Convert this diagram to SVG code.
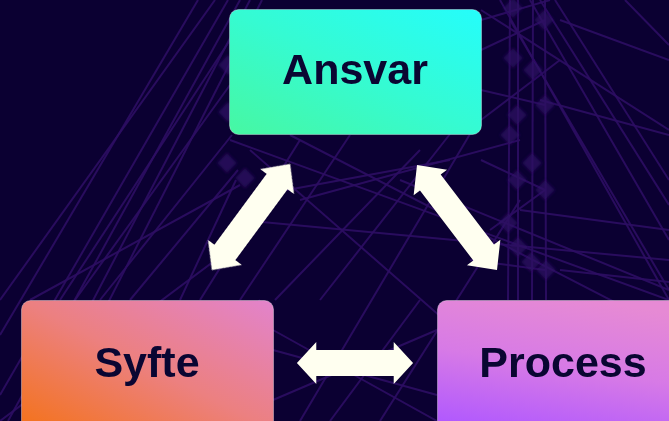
<svg xmlns="http://www.w3.org/2000/svg" width="669" height="421" viewBox="0 0 669 421">
  <defs>
    <linearGradient id="gAnsvar" x1="0" y1="1" x2="1" y2="0">
      <stop offset="0" stop-color="#47f7a2"/>
      <stop offset="0.5" stop-color="#35fbd2"/>
      <stop offset="1" stop-color="#25fdfb"/>
    </linearGradient>
    <linearGradient id="gSyfte" x1="0" y1="1" x2="1" y2="0">
      <stop offset="0" stop-color="#f47218"/>
      <stop offset="0.5" stop-color="#ec8080"/>
      <stop offset="1" stop-color="#e283cc"/>
    </linearGradient>
    <linearGradient id="gProcess" x1="0.3" y1="1" x2="0.6" y2="0">
      <stop offset="0" stop-color="#b25afd"/>
      <stop offset="0.5" stop-color="#d77ae6"/>
      <stop offset="1" stop-color="#e68ad4"/>
    </linearGradient>
    <filter id="soft" x="-50%" y="-50%" width="200%" height="200%">
      <feGaussianBlur stdDeviation="1.6"/>
    </filter>
    <polygon id="dblArrow" points="-66,0 -44,-21 -44,-13 44,-13 44,-21 66,0 44,21 44,13 -44,13 -44,21"/>
    <rect id="dia" x="-7" y="-7" width="14" height="14" transform="rotate(45)"/>
  </defs>
  <style>
    .bg { fill: #0b0032; }
    .wire line { stroke: #2d0e63; stroke-width: 2; opacity: 0.9; }
    .knots { filter: url(#soft); }
    .knots use { fill: #2e1064; opacity: 0.75; }
    .box { stroke: #ffffff; stroke-opacity: 0.35; stroke-width: 1; }
    .label { font-family: "Liberation Sans", Arial, sans-serif; font-weight: 700; font-size: 43px; fill: #0a0632; text-anchor: middle; }
    .arrow { fill: #fffff0; }
  </style>

  <rect class="bg" x="0" y="0" width="669" height="421"/>

  <!-- wireframe backdrop -->
  <g class="wire">
    <!-- left fan rising to the apex -->
    <line x1="0" y1="395" x2="228" y2="0"/>
    <line x1="8" y1="421" x2="240" y2="0"/>
    <line x1="30" y1="421" x2="250" y2="0"/>
    <line x1="48" y1="421" x2="262" y2="0"/>
    <line x1="0" y1="335" x2="198" y2="0"/>
    <line x1="0" y1="300" x2="215" y2="0"/>
    <line x1="60" y1="300" x2="230" y2="40"/>
    <line x1="75" y1="300" x2="230" y2="85"/>
    <line x1="100" y1="300" x2="232" y2="135"/>
    <line x1="0" y1="421" x2="229" y2="250"/>
    <line x1="30" y1="300" x2="240" y2="185"/>
    <line x1="130" y1="300" x2="238" y2="170"/>
    <line x1="160" y1="421" x2="260" y2="300"/>
    <line x1="180" y1="300" x2="236" y2="180"/>
    <line x1="200" y1="300" x2="300" y2="140"/>
    <!-- central lattice -->
    <line x1="230" y1="140" x2="669" y2="300"/>
    <line x1="250" y1="150" x2="560" y2="421"/>
    <line x1="290" y1="135" x2="669" y2="330"/>
    <line x1="240" y1="220" x2="669" y2="260"/>
    <line x1="260" y1="195" x2="450" y2="160"/>
    <line x1="300" y1="200" x2="520" y2="140"/>
    <line x1="275" y1="300" x2="420" y2="150"/>
    <line x1="320" y1="300" x2="450" y2="134"/>
    <line x1="240" y1="300" x2="350" y2="135"/>
    <line x1="300" y1="421" x2="470" y2="134"/>
    <line x1="380" y1="421" x2="520" y2="200"/>
    <line x1="273" y1="330" x2="437" y2="421"/>
    <line x1="273" y1="350" x2="437" y2="395"/>
    <line x1="273" y1="400" x2="437" y2="330"/>
    <line x1="330" y1="421" x2="420" y2="300"/>
    <line x1="400" y1="180" x2="669" y2="290"/>
    <!-- right column with knots -->
    <line x1="510" y1="0" x2="508" y2="300"/>
    <line x1="518" y1="0" x2="518" y2="300"/>
    <line x1="533" y1="0" x2="532" y2="300"/>
    <line x1="545" y1="0" x2="546" y2="300"/>
    <line x1="530" y1="0" x2="669" y2="240"/>
    <line x1="540" y1="0" x2="669" y2="205"/>
    <line x1="555" y1="0" x2="669" y2="180"/>
    <line x1="510" y1="20" x2="669" y2="290"/>
    <line x1="500" y1="0" x2="669" y2="300"/>
    <line x1="625" y1="0" x2="669" y2="45"/>
    <line x1="560" y1="20" x2="669" y2="60"/>
    <line x1="540" y1="100" x2="669" y2="135"/>
    <line x1="481" y1="50" x2="545" y2="20"/>
    <line x1="481" y1="90" x2="545" y2="105"/>
    <line x1="481" y1="120" x2="560" y2="60"/>
    <line x1="481" y1="160" x2="545" y2="190"/>
    <line x1="490" y1="230" x2="545" y2="190"/>
    <line x1="470" y1="260" x2="545" y2="270"/>
    <line x1="481" y1="20" x2="550" y2="0"/>
    <line x1="481" y1="10" x2="669" y2="130"/>
    <line x1="560" y1="270" x2="669" y2="282"/>
    <line x1="520" y1="210" x2="669" y2="230"/>
  </g>

  <g class="knots">
    <use href="#dia" x="513" y="8"/>
    <use href="#dia" x="544" y="20"/>
    <use href="#dia" x="513" y="58"/>
    <use href="#dia" x="533" y="70"/>
    <use href="#dia" x="545" y="105"/>
    <use href="#dia" x="517" y="115"/>
    <use href="#dia" x="510" y="135"/>
    <use href="#dia" x="532" y="163"/>
    <use href="#dia" x="517" y="180"/>
    <use href="#dia" x="545" y="190"/>
    <use href="#dia" x="508" y="223"/>
    <use href="#dia" x="518" y="247"/>
    <use href="#dia" x="531" y="262"/>
    <use href="#dia" x="546" y="270"/>
    <use href="#dia" x="227" y="163"/>
    <use href="#dia" x="245" y="178"/>
    <use href="#dia" x="228" y="112"/>
    <use href="#dia" x="228" y="65"/>
  </g>

  <!-- connectors -->
  <g id="connectors">
    <use class="arrow" href="#dblArrow" transform="translate(251,217) rotate(-53.6)"/>
    <use class="arrow" href="#dblArrow" transform="translate(457,217.5) rotate(52.7)"/>
    <use class="arrow" href="#dblArrow" transform="translate(355,363) scale(0.88,1)"/>
  </g>

  <!-- nodes -->
  <g id="node-ansvar">
    <rect class="box" x="229.5" y="9.5" width="252" height="125" rx="9" fill="url(#gAnsvar)"/>
    <text class="label" x="355" y="84">Ansvar</text>
  </g>
  <g id="node-syfte">
    <rect class="box" x="21.5" y="300.5" width="252" height="130" rx="9" fill="url(#gSyfte)"/>
    <text class="label" x="147" y="377">Syfte</text>
  </g>
  <g id="node-process">
    <rect class="box" x="437.5" y="300.5" width="252" height="130" rx="9" fill="url(#gProcess)"/>
    <text class="label" x="563" y="377">Process</text>
  </g>
</svg>
